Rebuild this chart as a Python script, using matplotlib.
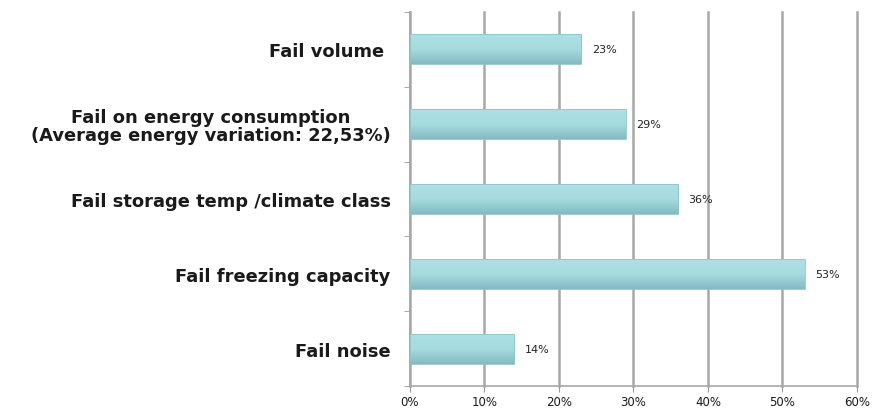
import matplotlib.pyplot as plt
import numpy as np
from matplotlib.colors import LinearSegmentedColormap

categories = ['Fail volume ',
              'Fail on energy consumption\n(Average energy variation: 22,53%)',
              'Fail storage temp /climate class',
              'Fail freezing capacity',
              'Fail noise']
values = [23, 29, 36, 53, 14]
xticks = [0, 10, 20, 30, 40, 50, 60]

fig = plt.figure(figsize=(8.77, 4.14), dpi=100, facecolor='white')
ax = fig.add_axes([0.4675, 0.065, 0.5095, 0.904])

ypos = np.arange(len(categories))[::-1]
bars = ax.barh(ypos, values, height=0.4, color='none', edgecolor='#8fc4ca',
               linewidth=0.6, zorder=4)

# vertical gradient inside each bar
grad = LinearSegmentedColormap.from_list('bar', ['#84bac1', '#a6dbe0', '#aee0e4'])
g = np.linspace(0, 1, 64).reshape(-1, 1)
for b in bars:
    x0, y0 = b.get_x(), b.get_y()
    w, h = b.get_width(), b.get_height()
    im = ax.imshow(g, cmap=grad, extent=[x0, x0 + w, y0, y0 + h],
                   origin='lower', aspect='auto', zorder=3)
    im.set_clip_path(b)

for y, v in zip(ypos, values):
    ax.text(v + 1.4, y, f'{v}%', va='center', ha='left', fontsize=8,
            color='#222222', zorder=5)

ax.set_xlim(0, 60)
ax.set_ylim(-0.5, len(categories) - 0.5)
ax.set_xticks(xticks)
ax.set_xticklabels([f'{t}%' for t in xticks], fontsize=8.5, color='#1a1a1a')
ax.set_yticks(ypos)
ax.set_yticklabels(categories, fontsize=12.9, fontweight='bold', color='#1a1a1a',
                   linespacing=1.0)
for lab in ax.get_yticklabels():
    lab.set_multialignment('center')
ax.set_yticks(np.arange(-0.5, len(categories), 1), minor=True)
ax.tick_params(axis='y', which='major', length=0, pad=14)
ax.tick_params(axis='y', which='minor', length=4, color='#999999')
ax.tick_params(axis='x', length=4, color='#999999', pad=2.5)

ax.grid(axis='x', color='#a8a8a8', linewidth=1.8, zorder=0)
for gl in ax.xaxis.get_gridlines():
    gl.set_clip_on(False)
for s in ['top', 'right']:
    ax.spines[s].set_visible(False)
for s in ['left', 'bottom']:
    ax.spines[s].set_color('#a8a8a8')
    ax.spines[s].set_linewidth(1.2)

fig.savefig('out.png', dpi=100)
